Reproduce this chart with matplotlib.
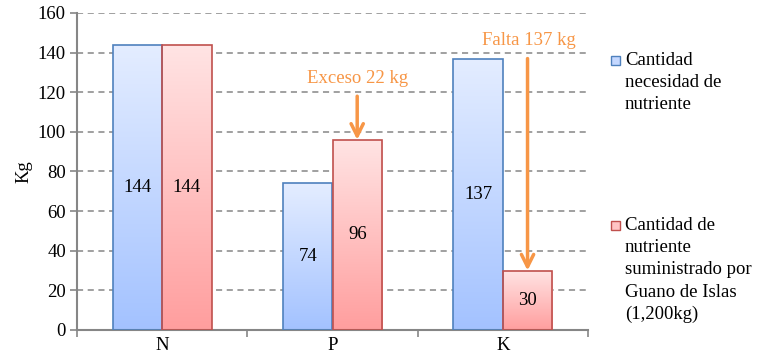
import matplotlib.pyplot as plt
import numpy as np
from matplotlib.patches import Rectangle
from matplotlib.colors import LinearSegmentedColormap

plt.rcParams['font.family'] = ['Liberation Serif', 'DejaVu Serif']

categories = ['N', 'P', 'K']
necesidad = [144, 74, 137]
suministro = [144, 96, 30]
yticks = [0, 20, 40, 60, 80, 100, 120, 140, 160]
legend_labels = ['Cantidad\nnecesidad de\nnutriente',
                 'Cantidad de\nnutriente\nsuministrado por\nGuano de Islas\n(1,200kg)']

orange = '#F79646'
grey = '#868686'
fs = 13.5
blue_cmap = LinearSegmentedColormap.from_list('b', ['#A3C2FF', '#E4EDFF'])
red_cmap = LinearSegmentedColormap.from_list('r', ['#FF9E9E', '#FFE4E4'])

fig = plt.figure(figsize=(7.59, 3.63), dpi=100)
ax = fig.add_axes([77/759, 33/363, 511/759, 317/363])

x = np.arange(len(categories))
w = 0.29
grad = np.linspace(0, 1, 256).reshape(-1, 1)


def gradient_bars(xpos, vals, cmap, edge):
    bars = ax.bar(xpos, vals, w, facecolor='none', edgecolor=edge, linewidth=1.2, zorder=3)
    for b in bars:
        x0, h = b.get_x(), b.get_height()
        im = ax.imshow(grad, extent=[x0, x0 + w, 0, h], origin='lower', aspect='auto',
                       cmap=cmap, zorder=2)
        im.set_clip_path(b)
    return bars


b1 = gradient_bars(x - w/2, necesidad, blue_cmap, '#4F81BD')
b2 = gradient_bars(x + w/2, suministro, red_cmap, '#C0504D')

for bars, vals in ((b1, necesidad), (b2, suministro)):
    for b, v in zip(bars, vals):
        ax.text(b.get_x() + w/2, v/2, str(v), ha='center', va='center', fontsize=fs, zorder=4)

ax.set_xlim(-0.5, 2.5)
ax.set_ylim(0, 160)
ax.set_yticks(yticks)
ax.tick_params(axis='y', labelsize=fs, color=grey, length=5, width=1.2, pad=3)
ax.set_xticks([-0.5, 0.5, 1.5, 2.5])
ax.set_xticklabels([])
ax.set_xticks(x, minor=True)
ax.set_xticklabels(categories, minor=True)
ax.tick_params(axis='x', which='major', color=grey, length=5, width=1.2)
ax.tick_params(axis='x', which='minor', length=0, labelsize=fs, pad=5)
ax.yaxis.grid(True, linestyle=(0, (4, 3)), color=grey, linewidth=1.1, zorder=0)
ax.set_axisbelow(True)
for s in ('top', 'right'):
    ax.spines[s].set_visible(False)
for s in ('left', 'bottom'):
    ax.spines[s].set_color(grey)
    ax.spines[s].set_linewidth(1.5)
ax.set_ylabel('Kg', fontsize=fs, labelpad=4)

# annotations
arrow = dict(arrowstyle='->', color=orange, lw=2.5, mutation_scale=22, shrinkA=0, shrinkB=0)
ax.annotate('', xy=(1 + w/2, suministro[1]), xytext=(1 + w/2, 118), arrowprops=arrow, zorder=5)
ax.text(1 + w/2, 127, 'Exceso 22 kg', color=orange, ha='center', va='center', fontsize=fs)
ax.annotate('', xy=(2 + w/2, suministro[2]), xytext=(2 + w/2, 137), arrowprops=arrow, zorder=5)
ax.text(2 + w/2 + 0.01, 146, 'Falta 137 kg', color=orange, ha='center', va='center', fontsize=fs)

# legend drawn manually
leg_y = [60, 225]
for (fc, ec), yy, lab in zip((('#C5D8FF', '#4F81BD'), ('#FFC4C4', '#C0504D')), leg_y, legend_labels):
    fig.add_artist(Rectangle((611/759, 1 - (yy + 5)/363), 9/759, 9/363, facecolor=fc,
                             edgecolor=ec, linewidth=1, transform=fig.transFigure))
    fig.text(625/759, 1 - (yy - 8)/363, lab, ha='left', va='top', fontsize=fs, linespacing=1.4)

fig.savefig('out.png', dpi=100)
